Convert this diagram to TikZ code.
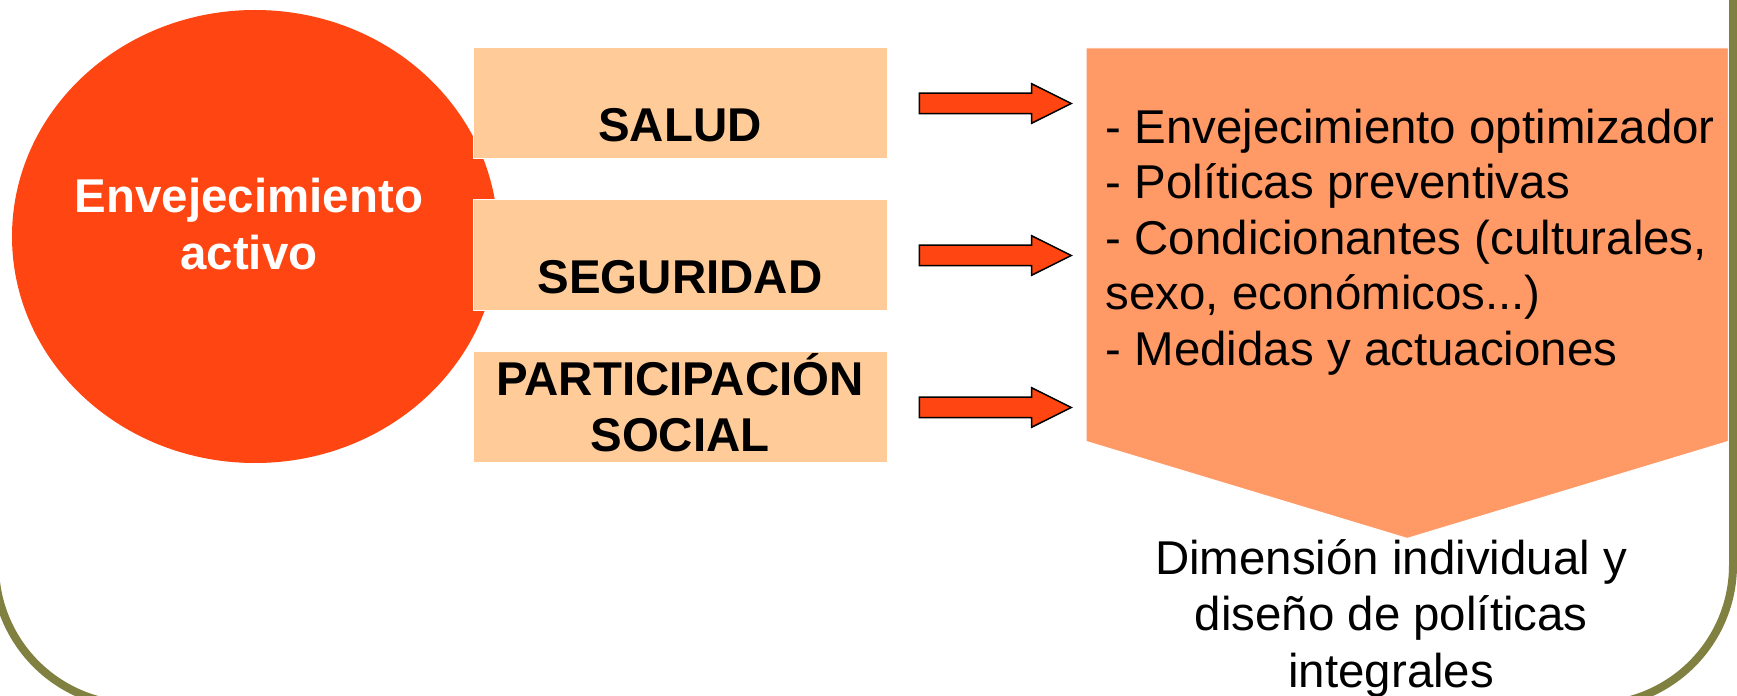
\documentclass[tikz,border=0pt]{standalone}
\usepackage{fontspec}
\setmainfont{Liberation Sans}
\usetikzlibrary{shapes.geometric, shapes.arrows, positioning, calc}

\definecolor{framecol}{HTML}{808040}
\definecolor{actred}{HTML}{FF4511}
\definecolor{boxpeach}{HTML}{FFCC99}
\definecolor{conseqorange}{HTML}{FF9966}

\begin{document}
\begin{tikzpicture}[
    node distance=0.4cm,
    dimbox/.style={rectangle, fill=boxpeach, draw=white, line width=0.01cm, minimum width=4.14cm, minimum height=1.11cm, inner ysep=0pt, align=center, font=\fontsize{13.5}{15.9}\selectfont\bfseries},
    lowtxt/.style={text height=0.76cm, text depth=0pt},
    blockarrow/.style={single arrow, draw=black, line width=0.015cm, fill=actred, minimum height=1.52cm, single arrow head extend=0.095cm, single arrow tip angle=53, inner xsep=0pt, inner ysep=0.095cm},
    txt/.style={font=\fontsize{13.5}{16.2}\selectfont, inner sep=0pt},
    boldtxt/.style={font=\fontsize{13.5}{16.2}\selectfont\bfseries, inner sep=0pt}
]
\useasboundingbox (0,0) rectangle (17.37,-6.96);

% === Outer frame ===
\begin{scope}
\clip (0,0) rectangle (17.37,-6.96);
\draw[framecol, line width=0.08cm] (-0.05,0.2) -- (-0.05,-5.65) arc[start angle=180, end angle=270, radius=1.4] -- (15.93,-7.05) arc[start angle=270, end angle=360, radius=1.4] -- (17.33,0.2);
\end{scope}

% === Active ageing ===
\node[ellipse, fill=actred, minimum width=4.86cm, minimum height=4.53cm, inner sep=0pt] (act) at (2.55,-2.365) {};
\node[boldtxt, white, align=center] (acttxt) at ([xshift=-0.06cm, yshift=0.12cm]act.center) {Envejecimiento\\activo};

% === Pillars ===
\node[dimbox, lowtxt] (salud) at (6.80,-1.035) {SALUD};
\node[dimbox, lowtxt, below=of salud] (segur) {SEGURIDAD};
\node[dimbox, text depth=0.1cm, below=of segur] (partic) {PARTICIPACIÓN\\SOCIAL};

\node[blockarrow, right=0.31cm of salud, anchor=tail] (arr1) {};
\node[blockarrow, right=0.31cm of segur, anchor=tail] (arr2) {};
\node[blockarrow, right=0.31cm of partic, anchor=tail] (arr3) {};

% === Consequences ===
\node[rectangle, minimum width=6.41cm, minimum height=3.92cm, anchor=north west, inner sep=0pt] (conseq) at (10.86,-0.48) {};
\coordinate (tip) at ($(conseq.south)+(0,-0.97)$);
\fill[conseqorange, draw=white, line width=0.01cm] (conseq.north west) -- (conseq.north east) -- (conseq.south east) -- (tip) -- (conseq.south west) -- cycle;

\node[txt, font=\fontsize{13.5}{15.8}\selectfont, align=left, anchor=north west] (conseqtxt) at ($(conseq.north west)+(0.19,-0.60)$) {- Envejecimiento optimizador\\- Políticas preventivas\\- Condicionantes (culturales,\\sexo, económicos...)\\- Medidas y actuaciones};

\node[txt, align=center, anchor=north] (dimtxt) at ([xshift=-0.16cm]tip) {Dimensión individual y\\diseño de políticas\\integrales};

\end{tikzpicture}
\end{document}
